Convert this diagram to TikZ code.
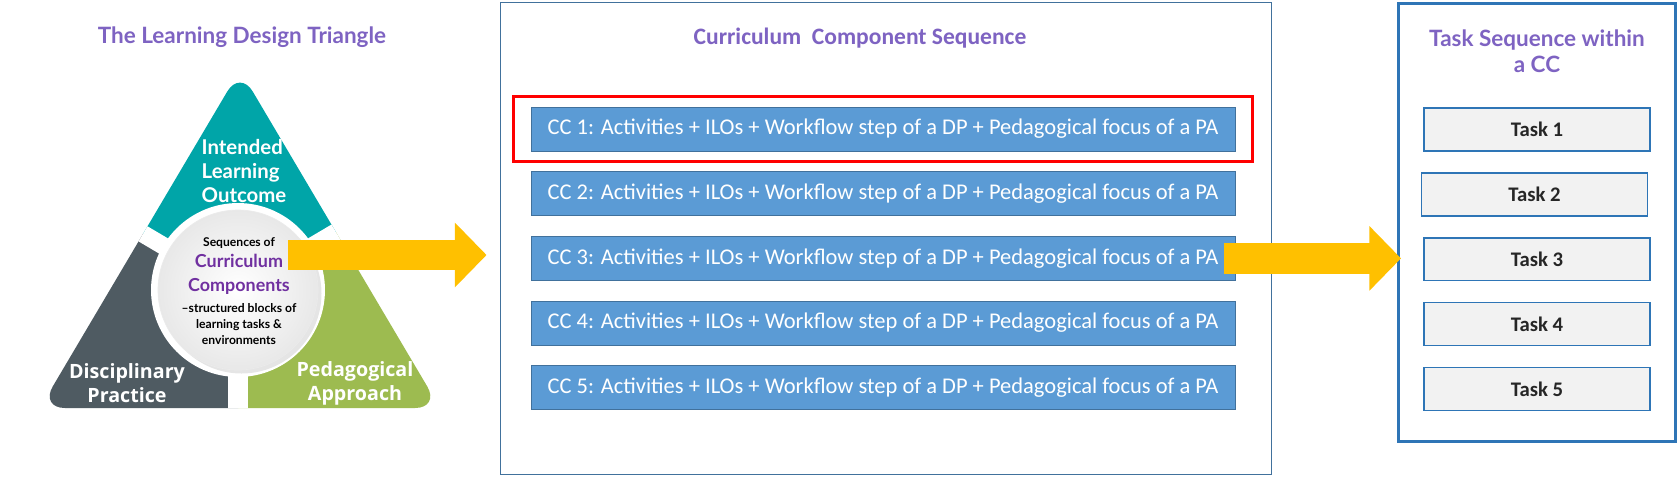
\documentclass[tikz,border=0pt]{standalone}
\usepackage{fontspec}
\setmainfont{Carlito}
\newfontfamily\latofont{Lato}
\newfontfamily\opensansfont{Open Sans}
\usepackage{tikz}
\usetikzlibrary{arrows.meta,positioning,fit,calc,shadows}
\tikzset{every node/.append style={align=center}}
\definecolor{titlepurple}{RGB}{126,99,194}
\definecolor{ccpurple}{RGB}{112,48,160}
\definecolor{iloteal}{RGB}{0,165,168}
\definecolor{dpgray}{RGB}{79,91,98}
\definecolor{pagreen}{RGB}{157,187,80}
\definecolor{ccblue}{RGB}{91,155,213}
\definecolor{ccborder}{RGB}{65,113,156}
\definecolor{taskgray}{RGB}{242,242,242}
\definecolor{taskborder}{RGB}{46,117,182}
\definecolor{taskdark}{RGB}{38,38,38}
\definecolor{arrowyellow}{RGB}{255,192,0}

\begin{document}
\begin{tikzpicture}[
    x=0.02cm, y=-0.02cm,
    title/.style={text=titlepurple, font=\latofont\bfseries\fontsize{12.8}{15}\selectfont},
    trilabel/.style={text=white, font=\opensansfont\bfseries\fontsize{11.2}{13.6}\selectfont},
    ccbox/.style={draw=ccborder, fill=ccblue, minimum width=14.08cm, minimum height=0.88cm, inner sep=0pt, text=white, font=\fontsize{12.8}{15}\selectfont},
    taskbox/.style={draw=taskborder, fill=taskgray, line width=0.8pt, minimum width=4.52cm, minimum height=0.86cm, inner sep=0pt, text=taskdark, font=\bfseries\fontsize{11.8}{14}\selectfont},
    bigarrow/.style={draw=arrowyellow, line width=17.6pt, -{Triangle[length=18pt,width=35.7pt]}}
]
    \useasboundingbox (0,0) rectangle (1680,478);
    \fill[white] (0,0) rectangle (1680,478);

    % Left panel - the triangle
    \node[title] (tritle) at (242,37) {The Learning Design Triangle};
    \coordinate (ctr) at (238,290);
    \begin{scope}
        \clip[rounded corners=0.5cm] (240,70) -- (40,408) -- (440,408) -- cycle;
        \fill[iloteal] (ctr) -- ($(ctr)+(-0.861*300,-0.509*300)$) -- (-30,0) -- (510,0) -- ($(ctr)+(0.861*300,-0.509*300)$) -- cycle;
        \fill[dpgray] (ctr) -- ($(ctr)+(-0.861*300,-0.509*300)$) -- (-30,478) -- (238,478) -- cycle;
        \fill[pagreen] (ctr) -- ($(ctr)+(0.861*300,-0.509*300)$) -- (510,478) -- (238,478) -- cycle;
        \draw[white, line width=10pt] (ctr) -- ($(ctr)+(-0.861*300,-0.509*300)$);
        \draw[white, line width=10pt] (ctr) -- ($(ctr)+(0.861*300,-0.509*300)$);
        \draw[white, line width=11pt] (ctr) -- (238,478);
    \end{scope}
    \fill[white] (ctr) circle (1.74cm);
    \node[circle, minimum size=3.2cm, inner color=white, outer color=black!9, draw=black!8,
          drop shadow={opacity=0.2, shadow xshift=2pt, shadow yshift=-2pt}] (disk) at (ctr) {};
    \node[trilabel, font=\latofont\bfseries\fontsize{11.6}{13.6}\selectfont, align=left] (ilo) at (244,171) {Intended\\Learning\\Outcome};
    \node[trilabel] (dp) at (127,383) {Disciplinary\\Practice};
    \node[trilabel] (pa) at (355,383) {Pedagogical\\Approach};
    \node[inner sep=0pt, font=\latofont\bfseries\fontsize{6.9}{9}\selectfont] (disktext) at (239,291)
        {Sequences of\\[3pt]
         {\color{ccpurple}\fontsize{10.2}{12}\selectfont Curriculum}\\[5pt]
         {\color{ccpurple}\fontsize{10.2}{12}\selectfont Components}\\[2.5pt]
         \textendash structured blocks of\\[0.5pt]
         learning tasks \&\\
         environments};

    % Middle panel - curriculum component sequence
    \node[draw=ccborder, line width=0.6pt, minimum width=15.44cm, minimum height=9.46cm] (ccframe) at (886,238.5) {};
    \node[title, font=\bfseries\fontsize{13.4}{15}\selectfont] (cctitle) at (860,38) {Curriculum\ \ Component Sequence};
    \node[ccbox] (cc1) at (883,129) {CC 1: Activities + ILOs + Workflow step of a DP + Pedagogical focus of a PA};
    \node[ccbox, below=0.4cm of cc1] (cc2) {CC 2: Activities + ILOs + Workflow step of a DP + Pedagogical focus of a PA};
    \node[ccbox, below=0.4cm of cc2] (cc3) {CC 3: Activities + ILOs + Workflow step of a DP + Pedagogical focus of a PA};
    \node[ccbox, below=0.4cm of cc3] (cc4) {CC 4: Activities + ILOs + Workflow step of a DP + Pedagogical focus of a PA};
    \node[ccbox, below=0.4cm of cc4] (cc5) {CC 5: Activities + ILOs + Workflow step of a DP + Pedagogical focus of a PA};
    \node[draw=red, line width=1.7pt, fit=(cc1), inner xsep=0.34cm, inner ysep=0.2cm] (focus) {};

    % Right panel - tasks in one CC
    \node[draw=taskborder, line width=1.7pt, minimum width=5.54cm, minimum height=8.76cm] (taskframe) at (1537,222.5) {};
    \node[title] (tasktitle) at (1537,51) {Task Sequence within\\a CC};
    \node[taskbox] (t1) at (1537,129.5) {Task 1};
    \node[taskbox, below=0.41cm of t1, xshift=-0.05cm] (t2) {Task 2};
    \node[taskbox, below=0.41cm of t2, xshift=0.05cm] (t3) {Task 3};
    \node[taskbox, below=0.41cm of t3] (t4) {Task 4};
    \node[taskbox, below=0.41cm of t4] (t5) {Task 5};

    % Arrows
    \coordinate (a1s) at (288,255);
    \draw[bigarrow] (a1s) -- ([xshift=-0.26cm]ccframe.west |- a1s);
    \draw[bigarrow] ([xshift=-0.22cm]cc3.east) -- ([xshift=0.08cm]taskframe.west |- cc3.east);
\end{tikzpicture}
\end{document}
